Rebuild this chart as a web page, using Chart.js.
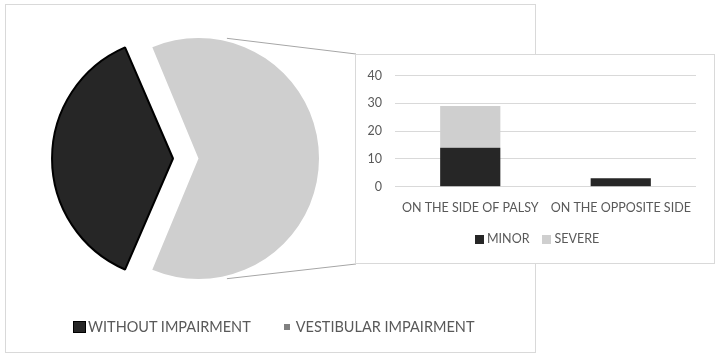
<!DOCTYPE html>
<html><head><meta charset="utf-8">
<script src="https://cdn.jsdelivr.net/npm/chart.js@4.4.1/dist/chart.umd.min.js"></script>
<style>
html,body{margin:0;padding:0;background:#fff;width:720px;height:358px;overflow:hidden;font-family:Lato,'Open Sans',sans-serif;}
#frame{position:absolute;left:5px;top:4px;width:531px;height:349px;border:1.5px solid #d9d9d9;box-sizing:border-box;}
#pie{position:absolute;left:0;top:0;}
#barbox{position:absolute;left:355px;top:54px;width:360px;height:210px;border:1.5px solid #d9d9d9;box-sizing:border-box;background:#fff;}
#bar{position:absolute;left:356px;top:55px;}
.legend{position:absolute;display:flex;align-items:center;color:#595959;white-space:nowrap;line-height:1;}
.legend .mk{display:inline-block;box-sizing:border-box;}
</style></head>
<body>
<div id="frame"></div>
<canvas id="pie" width="720" height="358"></canvas>
<div id="barbox"></div>
<canvas id="bar" width="358" height="208"></canvas>
<div id="pieLegend" class="legend" style="left:73px;top:320px;font-size:14.5px;"></div>
<div id="barLegend" class="legend" style="left:475px;top:233px;font-size:12.5px;"></div>
<script>
// ---- data ----
const pieLabels = ['WITHOUT IMPAIRMENT', 'VESTIBULAR IMPAIRMENT'];
const pieValues = [19, 32];
const barCategories = ['ON THE SIDE OF PALSY', 'ON THE OPPOSITE SIDE'];
const minorValues = [14, 3];
const severeValues = [15, 0];
const barSeries = ['MINOR', 'SEVERE'];
const yTickValues = [0, 10, 20, 30, 40];

// ---- styles ----
const DARK = '#262626', LIGHT = '#cfcfcf', TXT = '#595959';
const FONT = 'Lato, "Open Sans", sans-serif';
Chart.defaults.font.family = FONT;
Chart.defaults.color = TXT;

const pieOffsets = [81, 21];

const connectorPlugin = {
  id: 'connector',
  afterDatasetsDraw(chart) {
    const arc = chart.getDatasetMeta(0).data[1];
    if (!arc) return;
    const p = arc.getProps(['x','y','startAngle','endAngle','outerRadius'], true);
    const mid = (p.startAngle + p.endAngle) / 2;
    const off = pieOffsets[1] / 4;
    const cx = p.x + Math.cos(mid) * off, cy = p.y + Math.sin(mid) * off;
    const r = p.outerRadius + off + 3;
    const th = 13.3 * Math.PI / 180;
    const box = document.getElementById('barbox').getBoundingClientRect();
    const ctx = chart.ctx;
    ctx.save();
    ctx.strokeStyle = '#a6a6a6';
    ctx.lineWidth = 1;
    ctx.beginPath();
    ctx.moveTo(cx + r * Math.sin(th), cy - r * Math.cos(th));
    ctx.lineTo(box.left + 1, box.top);
    ctx.moveTo(cx + r * Math.sin(th), cy + r * Math.cos(th));
    ctx.lineTo(box.left + 1, box.bottom);
    ctx.stroke();
    ctx.restore();
  }
};

new Chart(document.getElementById('pie'), {
  type: 'pie',
  data: {
    labels: pieLabels,
    datasets: [{
      data: pieValues,
      backgroundColor: [DARK, LIGHT],
      borderColor: ['#000000', '#ffffff'],
      borderWidth: [2, 0],
      offset: pieOffsets
    }]
  },
  options: {
    responsive: false,
    animation: false,
    devicePixelRatio: 1,
    radius: 115.25,
    rotation: 202.95,
    layout: { padding: { left: 0, top: 0, right: 720 - 386.5, bottom: 358 - 317 } },
    plugins: { legend: { display: false }, tooltip: { enabled: false } }
  },
  plugins: [connectorPlugin]
});

new Chart(document.getElementById('bar'), {
  type: 'bar',
  data: {
    labels: barCategories,
    datasets: [
      { label: barSeries[0], data: minorValues, backgroundColor: DARK, categoryPercentage: 1, barPercentage: 0.4 },
      { label: barSeries[1], data: severeValues, backgroundColor: LIGHT, categoryPercentage: 1, barPercentage: 0.4 }
    ]
  },
  options: {
    responsive: false,
    animation: false,
    devicePixelRatio: 1,
    layout: { padding: { left: 0, top: 18.3, right: 18, bottom: 46.3 } },
    plugins: { legend: { display: false }, tooltip: { enabled: false } },
    scales: {
      x: {
        stacked: true,
        grid: { display: false },
        border: { display: false },
        ticks: { color: TXT, font: { size: 12.5 }, padding: 6, maxRotation: 0, autoSkip: false },
        afterFit: s => { s.height = 30; }
      },
      y: {
        stacked: true,
        min: 0, max: 40,
        grid: { color: '#d9d9d9', drawTicks: false },
        border: { display: false },
        ticks: { color: TXT, font: { size: 12.5 }, padding: 13, stepSize: 10 },
        afterBuildTicks: s => { s.ticks = yTickValues.map(v => ({ value: v })); },
        afterFit: s => { s.width = 39; }
      }
    }
  }
});

// ---- legends (HTML) ----
function addItem(el, label, mkStyle, gapAfter) {
  const mk = document.createElement('span');
  mk.className = 'mk';
  Object.assign(mk.style, mkStyle);
  const t = document.createElement('span');
  t.textContent = label;
  t.style.marginRight = gapAfter + 'px';
  el.appendChild(mk); el.appendChild(t);
}
const pl = document.getElementById('pieLegend');
addItem(pl, pieLabels[0], { width: '13px', height: '12px', background: DARK, border: '1.5px solid #000', marginRight: '2px' }, 33);
addItem(pl, pieLabels[1], { width: '6px', height: '6px', background: '#808080', marginRight: '6px' }, 0);
const bl = document.getElementById('barLegend');
addItem(bl, barSeries[0], { width: '9px', height: '9px', background: DARK, marginRight: '3px' }, 12);
addItem(bl, barSeries[1], { width: '9px', height: '9px', background: LIGHT, marginRight: '4px' }, 0);
</script>
</body></html>
